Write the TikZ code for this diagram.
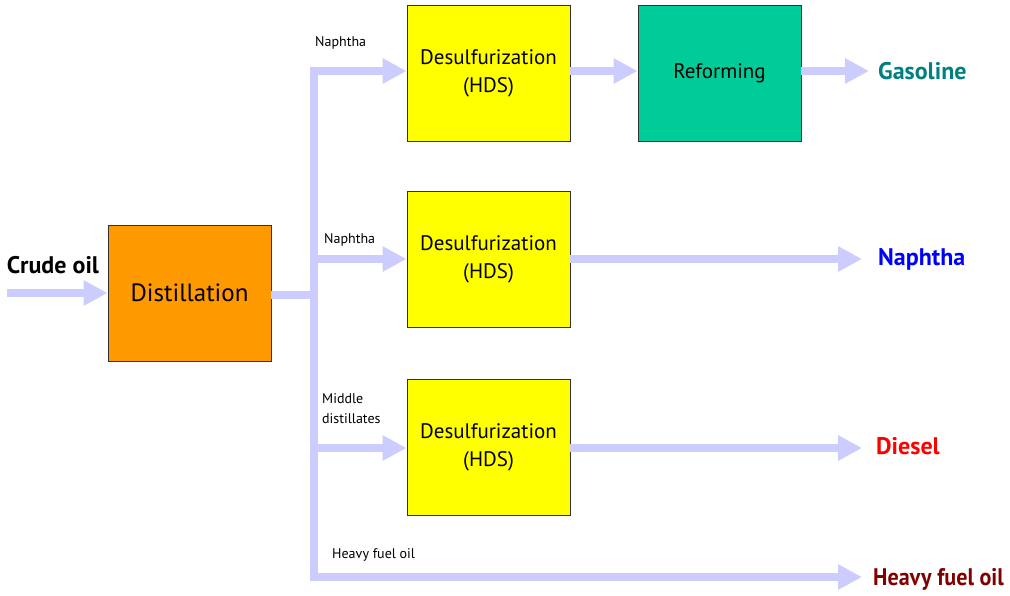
\documentclass[tikz,border=0pt]{standalone}
\usepackage{fontspec}
\setmainfont{PT Sans}
\newfontfamily\hfofont[FakeStretch=0.92]{PT Sans}
\usetikzlibrary{arrows.meta}
\definecolor{pipec}{HTML}{CCCCFF}
\definecolor{orangec}{HTML}{FF9900}
\definecolor{yellowc}{HTML}{FFFF00}
\definecolor{greenc}{HTML}{00CC99}
\definecolor{gasc}{HTML}{008080}
\definecolor{napc}{HTML}{0000FF}
\definecolor{diec}{HTML}{FF0000}
\definecolor{hfoc}{HTML}{800000}
\tikzset{
  procbox/.style={draw=black!80, line width=0.9pt, minimum width=163pt, minimum height=136pt, inner sep=0pt, align=center, font=\fontsize{21}{28}\selectfont},
  flow/.style={draw=pipec, line width=8pt, line join=miter, -{Triangle[length=24pt,width=24pt]}},
  pipe/.style={draw=pipec, line width=8pt},
  small/.style={font=\fontsize{14}{20}\selectfont, inner sep=0pt, align=left},
  outlbl/.style={font=\bfseries\fontsize{24}{28}\selectfont, inner sep=0pt, anchor=west},
}
\begin{document}
\begin{tikzpicture}[x=1pt,y=-1pt]
\useasboundingbox (0,0) rectangle (1010,595);
% boxes
\node[procbox, fill=orangec, font=\fontsize{25}{30}\selectfont] (dist) at (189.5,293) {Distillation};
\node[procbox, fill=yellowc] (h1) at (488.5,73) {Desulfurization\\(HDS)};
\node[procbox, fill=yellowc] (h2) at (488.5,259) {Desulfurization\\(HDS)};
\node[procbox, fill=yellowc] (h3) at (488.5,447) {Desulfurization\\(HDS)};
\node[procbox, fill=greenc] (ref) at (719.5,73) {Reforming};
% outputs
\node[outlbl, text=gasc] (gas) at (878,71) {Gasoline};
\node[outlbl, text=napc] (nap) at (878,259) {Naphtha};
\node[outlbl, text=diec] (die) at (876,446) {Diesel};
\node[outlbl, text=hfoc, font=\hfofont\bfseries\fontsize{24}{28}\selectfont] (hfo) at (873,579) {Heavy fuel oil};
\node[font=\bfseries\fontsize{24}{28}\selectfont, inner sep=0pt] (crude) at (53,265) {Crude oil};
% small labels
\node[small, anchor=west] (l1) at (315,43) {Naphtha};
\node[small, anchor=west] (l2) at (324,240) {Naphtha};
\node[small, anchor=west] (l3) at (322,409) {Middle\\distillates};
\node[small, anchor=west] (l4) at (332,555) {Heavy fuel oil};
% junction coordinates
\coordinate (cin) at (7,293);
\coordinate (jm) at (314,295);
\coordinate (jt) at (314,71);
\coordinate (jb) at (314,577);
\coordinate (hend) at (862,577);
\coordinate (gend) at (869,71);
\coordinate (nend) at (862,259);
\coordinate (dend) at (862,448);
% connectors
\draw[flow] (cin) -- (dist.west);
\draw[pipe] (dist.east |- jm) -- (jm);
\draw[flow] (jb) -- (jt) -- (h1.west |- jt);
\draw[flow] (jt) -- (jb) -- (hend);
\draw[flow] (jt |- h2.west) -- (h2.west);
\draw[flow] (jt |- dend) -- (h3.west |- dend);
\draw[flow] (h1.east |- jt) -- (ref.west |- jt);
\draw[flow] (ref.east |- gend) -- (gend);
\draw[flow] (h2.east |- nend) -- (nend);
\draw[flow] (h3.east |- dend) -- (dend);
\end{tikzpicture}
\end{document}
